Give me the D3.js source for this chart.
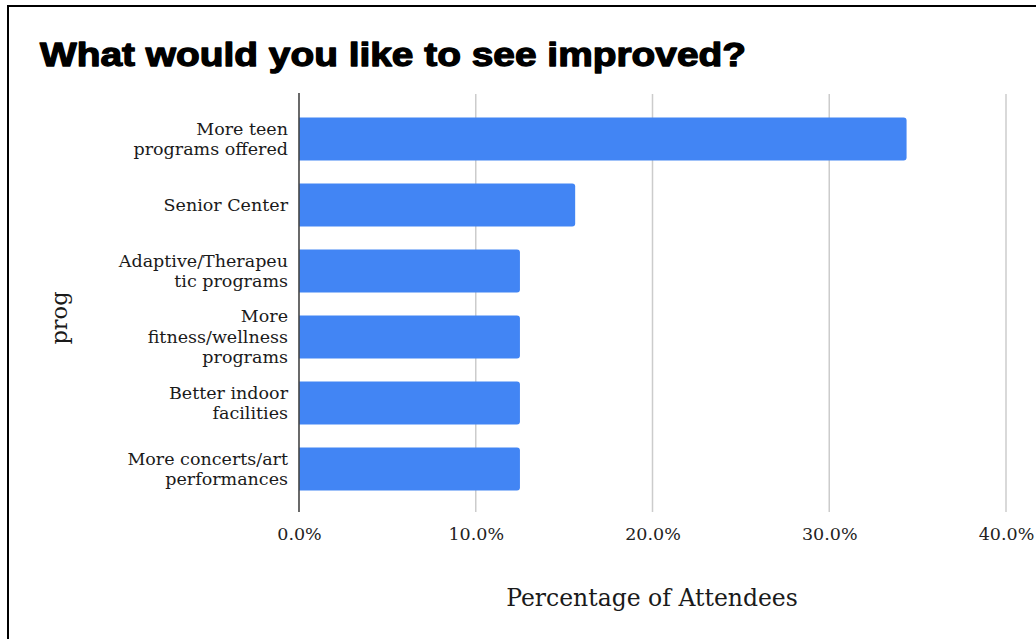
<!DOCTYPE html>
<html>
<head>
<meta charset="utf-8">
<script src="https://cdn.jsdelivr.net/npm/d3@7"></script>
<style>
  html, body { margin: 0; padding: 0; background: #fff; }
  svg { display: block; }
</style>
</head>
<body>
<svg id="chart" width="1036" height="639"></svg>
<script>
// Survey responses: share of attendees asking for each improvement
const categories = [
  "More teen programs offered",
  "Senior Center",
  "Adaptive/Therapeutic programs",
  "More fitness/wellness programs",
  "Better indoor facilities",
  "More concerts/art performances"
];
// Wrapped label lines as shown on the axis
const categoryLines = [
  ["More teen", "programs offered"],
  ["Senior Center"],
  ["Adaptive/Therapeu", "tic programs"],
  ["More", "fitness/wellness", "programs"],
  ["Better indoor", "facilities"],
  ["More concerts/art", "performances"]
];
const values = [34.375, 15.625, 12.5, 12.5, 12.5, 12.5];
const tickValues = [0, 10, 20, 30, 40];
const tickLabels = ["0.0%", "10.0%", "20.0%", "30.0%", "40.0%"];

const title = "What would you like to see improved?";
const xTitle = "Percentage of Attendees";
const yTitle = "prog";

const svg = d3.select("#chart");
const serif = "'DejaVu Serif', 'Liberation Serif', serif";

const plot = { left: 299, right: 1006, top: 94, bottom: 512 };

const x = d3.scaleLinear().domain([0, 40]).range([plot.left, plot.right]);
const y = d3.scaleBand()
  .domain(categories)
  .range([plot.top + 1, plot.bottom + 1])
  .paddingInner(0.35)
  .paddingOuter(0.342);

// Frame
svg.append("line").attr("x1", 8).attr("x2", 8).attr("y1", 5).attr("y2", 639)
  .attr("stroke", "#000").attr("stroke-width", 2);
svg.append("line").attr("x1", 7).attr("x2", 1036).attr("y1", 6).attr("y2", 6)
  .attr("stroke", "#000").attr("stroke-width", 2);

// Title
svg.append("text")
  .attr("x", 40).attr("y", 66)
  .attr("font-family", "'Liberation Sans', Arial, sans-serif")
  .attr("font-weight", 900)
  .attr("font-size", 34)
  .attr("fill", "#000")
  .attr("stroke", "#000").attr("stroke-width", 1.3)
  .attr("stroke-linejoin", "round")
  .attr("textLength", 706)
  .attr("lengthAdjust", "spacingAndGlyphs")
  .text(title);

// Vertical gridlines (extend below plot as ticks)
svg.append("g")
  .selectAll("line")
  .data(tickValues.filter(d => d > 0))
  .join("line")
  .attr("x1", d => x(d)).attr("x2", d => x(d))
  .attr("y1", plot.top).attr("y2", plot.bottom)
  .attr("stroke", "#cccccc").attr("stroke-width", 1.5);

// Bars with rounded right ends
svg.append("g")
  .selectAll("path")
  .data(categories)
  .join("path")
  .attr("fill", "#4285f4")
  .attr("d", (c, i) => {
    const x0 = x(0), x1 = x(values[i]);
    const y0 = y(c), h = y.bandwidth(), r = 3;
    return `M${x0},${y0}H${x1 - r}Q${x1},${y0} ${x1},${y0 + r}V${y0 + h - r}Q${x1},${y0 + h} ${x1 - r},${y0 + h}H${x0}Z`;
  });

// Baseline at zero
svg.append("line")
  .attr("x1", x(0)).attr("x2", x(0))
  .attr("y1", plot.top - 1).attr("y2", plot.bottom)
  .attr("stroke", "#444").attr("stroke-width", 1.6);

// X axis tick labels
const xAxis = d3.axisBottom(x)
  .tickValues(tickValues)
  .tickFormat((d, i) => tickLabels[i])
  .tickSize(0)
  .tickPadding(0);
const gx = svg.append("g")
  .attr("transform", `translate(0, ${plot.bottom + 28})`)
  .call(xAxis);
gx.select(".domain").remove();
gx.selectAll("text")
  .attr("font-family", serif)
  .attr("font-size", 17.5)
  .attr("fill", "#222")
  .attr("dy", 0);

// Y category labels
const lineH = 20.5;
const gy = svg.append("g");
categories.forEach((c, i) => {
  const lines = categoryLines[i];
  const cy = y(c) + y.bandwidth() / 2;
  const t = gy.append("text")
    .attr("text-anchor", "end")
    .attr("font-family", serif)
    .attr("font-size", 17.5)
    .attr("fill", "#1a1a1a");
  lines.forEach((ln, j) => {
    t.append("tspan")
      .attr("x", plot.left - 11)
      .attr("y", cy + (j - (lines.length - 1) / 2) * lineH + 6)
      .text(ln);
  });
});

// Axis titles
svg.append("text")
  .attr("x", 652).attr("y", 606)
  .attr("text-anchor", "middle")
  .attr("font-family", serif)
  .attr("font-size", 23.5)
  .attr("fill", "#1a1a1a")
  .text(xTitle);

svg.append("text")
  .attr("transform", "translate(67, 318) rotate(-90)")
  .attr("text-anchor", "middle")
  .attr("font-family", serif)
  .attr("font-size", 22.5)
  .attr("fill", "#1a1a1a")
  .text(yTitle);
</script>
</body>
</html>
